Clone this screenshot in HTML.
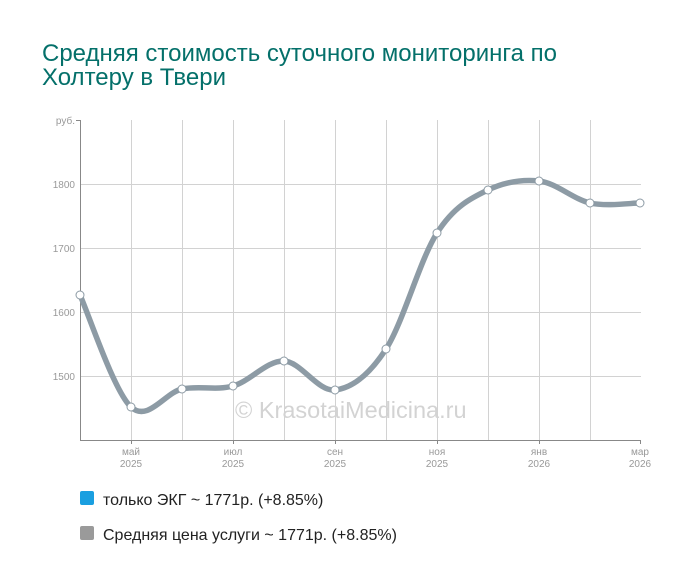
<!DOCTYPE html>
<html><head><meta charset="utf-8"><style>
body{margin:0;background:#fff;width:700px;height:583px;overflow:hidden;font-family:"Liberation Sans",sans-serif}
</style></head><body>
<svg width="700" height="583" xmlns="http://www.w3.org/2000/svg" font-family="Liberation Sans, sans-serif">
<text x="42" y="61" font-size="24" fill="#04706a">Средняя стоимость суточного мониторинга по</text>
<text x="42" y="85" font-size="24" fill="#04706a">Холтеру в Твери</text>
<g stroke="#d2d2d2" stroke-width="1">
<line x1="80" y1="184.5" x2="641" y2="184.5"/><line x1="80" y1="248.5" x2="641" y2="248.5"/>
<line x1="80" y1="312.5" x2="641" y2="312.5"/><line x1="80" y1="376.5" x2="641" y2="376.5"/>
<line x1="131.5" y1="120" x2="131.5" y2="440"/><line x1="182.5" y1="120" x2="182.5" y2="440"/>
<line x1="233.5" y1="120" x2="233.5" y2="440"/><line x1="284.5" y1="120" x2="284.5" y2="440"/>
<line x1="335.5" y1="120" x2="335.5" y2="440"/><line x1="386.5" y1="120" x2="386.5" y2="440"/>
<line x1="437.5" y1="120" x2="437.5" y2="440"/><line x1="488.5" y1="120" x2="488.5" y2="440"/>
<line x1="539.5" y1="120" x2="539.5" y2="440"/><line x1="590.5" y1="120" x2="590.5" y2="440"/>
</g>
<g stroke="#888" stroke-width="1">
<line x1="80.5" y1="120" x2="80.5" y2="440"/><line x1="76" y1="120.5" x2="80" y2="120.5"/>
<line x1="80" y1="440.5" x2="641" y2="440.5"/>
<line x1="131.5" y1="440" x2="131.5" y2="444"/><line x1="233.5" y1="440" x2="233.5" y2="444"/>
<line x1="335.5" y1="440" x2="335.5" y2="444"/><line x1="437.5" y1="440" x2="437.5" y2="444"/>
<line x1="539.5" y1="440" x2="539.5" y2="444"/><line x1="640.5" y1="440" x2="640.5" y2="444"/>
</g>
<g font-size="10" fill="#999" text-anchor="end">
<text x="75" y="124">руб.</text><text x="75" y="188">1800</text><text x="75" y="252">1700</text>
<text x="75" y="316">1600</text><text x="75" y="380">1500</text>
</g>
<g font-size="10" fill="#999" text-anchor="middle">
<text x="131" y="455">май</text><text x="131" y="467">2025</text>
<text x="233" y="455">июл</text><text x="233" y="467">2025</text>
<text x="335" y="455">сен</text><text x="335" y="467">2025</text>
<text x="437" y="455">ноя</text><text x="437" y="467">2025</text>
<text x="539" y="455">янв</text><text x="539" y="467">2026</text>
<text x="640" y="455">мар</text><text x="640" y="467">2026</text>
</g>
<text x="235" y="418" font-size="23.5" fill="#d3d3d3">© KrasotaiMedicina.ru</text>
<path d="M80,295 C88.5,313.7 114,391.3 131,407 C148,422.7 165,392.5 182,389 C199,385.5 216,390.7 233,386 C250,381.3 267,360.3 284,361 C301,361.7 318,392 335,390 C352,388 369,375.2 386,349 C403,322.8 420,259.5 437,233 C454,206.5 471,198 488,190 C505,182 522,179.2 539,181 C556,182.8 573.5,199.3 590,203 C606.8,206.7 631.7,203 640,203" fill="none" stroke="#8d9ba5" stroke-width="5.5" stroke-linecap="round"/>
<g fill="#fff" stroke="#8d9ba5" stroke-width="1">
<circle cx="80" cy="295" r="4"/><circle cx="131" cy="407" r="4"/><circle cx="182" cy="389" r="4"/>
<circle cx="233" cy="386" r="4"/><circle cx="284" cy="361" r="4"/><circle cx="335" cy="390" r="4"/>
<circle cx="386" cy="349" r="4"/><circle cx="437" cy="233" r="4"/><circle cx="488" cy="190" r="4"/>
<circle cx="539" cy="181" r="4"/><circle cx="590" cy="203" r="4"/><circle cx="640" cy="203" r="4"/>
</g>
<rect x="80" y="491" width="14" height="14" rx="2" fill="#1a9fe0"/>
<text x="103" y="505" font-size="16" fill="#222">только ЭКГ ~ 1771р. (+8.85%)</text>
<rect x="80" y="526" width="14" height="14" rx="2" fill="#9a9a9a"/>
<text x="103" y="540" font-size="16" fill="#222">Средняя цена услуги ~ 1771р. (+8.85%)</text>
</svg>
</body></html>
